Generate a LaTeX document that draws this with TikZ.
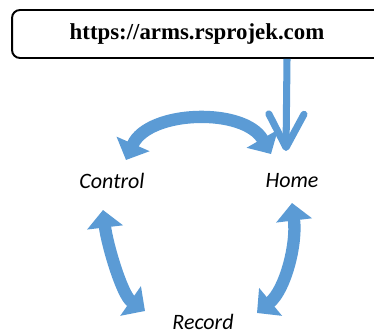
\documentclass[tikz,border=0pt]{standalone}
\usepackage{fontspec}
\setmainfont{Liberation Serif}
\newfontfamily\labelfont{Carlito}
\usetikzlibrary{arrows.meta}
\definecolor{flowblue}{RGB}{91,155,213}
\tikzset{
	flow/.style={flowblue,line width=7pt,arrows={Triangle[width=20pt,length=10pt]-Triangle[width=20pt,length=10pt]}},
	place/.style={font=\labelfont\itshape\fontsize{12.5}{15}\selectfont,inner sep=0pt},
}
\begin{document}
\begin{tikzpicture}[x=0.02cm,y=-0.02cm]
			\useasboundingbox (0,0) rectangle (374,333);
			\node[draw,line width=1.1pt,rounded corners=4.5pt,minimum width=7.4cm,minimum height=0.96cm,font=\bfseries\fontsize{13}{15}\selectfont] (url) at (197,34) {https://arms.rsprojek.com};
			\node[place] (control) at (112,181) {Control};
			\node[place] (home) at (292,181) {Home};
			\node[place] (record) at (203,322) {Record};
			% link into home
			\draw[flowblue,line width=4pt,-{Straight Barb[length=19pt,width=20pt,round]}] ([shift={(90,0)}]url.south) -- ([shift={(-6,-30)}]home.center);
			% cycle between the pages
			\draw[flow] ([shift={(14,-21)}]control.center) .. controls +(22,-50) and +(-27,-47) .. ([shift={(-21,-27)}]home.center);
			\draw[flow] ([shift={(-9,29)}]control.center) .. controls +(4,34) and +(-23,-16) .. ([shift={(-58,-11)}]record.center);
			\draw[flow] ([shift={(0,22)}]home.center) .. controls +(5,42) and +(28,-23) .. ([shift={(54,-9)}]record.center);
		\end{tikzpicture}
\end{document}
